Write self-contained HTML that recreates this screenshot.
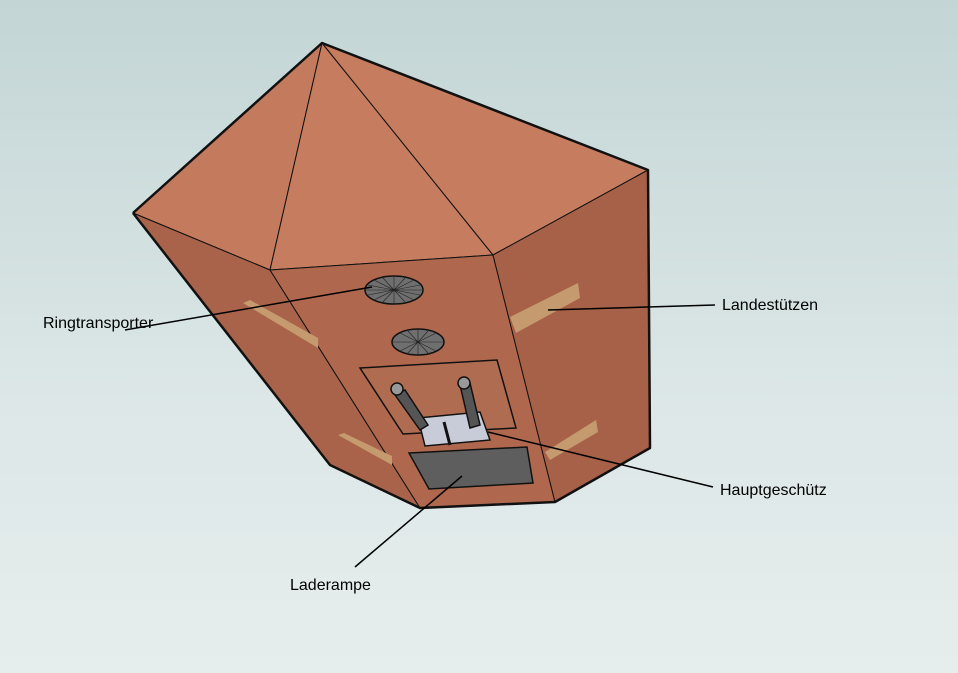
<!DOCTYPE html>
<html><head><meta charset="utf-8"><style>
html,body{margin:0;padding:0}
body{width:958px;height:673px;overflow:hidden;background:linear-gradient(#c3d5d5,#dde7e7 60%,#e6eded);font-family:"Liberation Sans",sans-serif}
svg{display:block}
</style></head><body>
<svg width="958" height="673" viewBox="0 0 958 673">
<g stroke="#111" stroke-linejoin="round">
<polygon points="322,43 133,213 270,270" fill="#c47a5c" stroke-width="1"/>
<polygon points="322,43 270,270 493,255" fill="#c67c5e" stroke-width="1"/>
<polygon points="322,43 493,255 648,170" fill="#c67d5f" stroke-width="1"/>
<polygon points="133,213 270,270 420,508 330,465" fill="#a9634a" stroke-width="1"/>
<polygon points="270,270 493,255 555,502 420,508" fill="#af684d" stroke-width="1"/>
<polygon points="493,255 648,170 650,448 555,502" fill="#a76148" stroke-width="1"/>
<polyline points="133,213 322,43 648,170 650,448 555,502 420,508 330,465 133,213" fill="none" stroke-width="2.5"/>
</g>
<g fill="#c49a6e" stroke="none">
<polygon points="243,303 250,300 318,338 318,348"/>
<polygon points="338,435 344,433 392,456 392,465"/>
<polygon points="510,317 578,283 580,298 516,333"/>
<polygon points="545,452 596,420 598,432 550,460"/>
</g>
<g stroke="#111" stroke-width="1.5">
<ellipse cx="394" cy="290" rx="29" ry="14" fill="#6f6f6f"/>
<ellipse cx="418" cy="342" rx="26" ry="13" fill="#6f6f6f"/>
</g>
<g stroke="#222" stroke-width="0.6">
<path d="M365,290H423M394,276V304M374,280L414,300M374,300L414,280M382,277L406,303M382,303L406,277M368,285L420,295M368,295L420,285"/>
<path d="M392,342H444M418,329V355M400,333L436,351M400,351L436,333M407,330L429,354M407,354L429,330"/>
</g>
<polygon points="360,368 497,360 516,428 403,434" fill="#b06c50" stroke="#111" stroke-width="1.5"/>
<g stroke="#111" stroke-width="1.5" fill="#c8ccd8">
<polygon points="418,418 480,412 490,440 425,446"/>
<path d="M395,395 L420,430 L428,425 L405,390Z" fill="#555"/>
<path d="M460,385 L470,428 L480,425 L470,383Z" fill="#555"/>
<circle cx="397" cy="389" r="6" fill="#999"/>
<circle cx="464" cy="383" r="6" fill="#999"/>
<path d="M444,422 L450,445" stroke-width="3" fill="none"/>
</g>
<polygon points="409,453 527,447 533,483 429,489" fill="#5e5e5e" stroke="#111" stroke-width="1.5"/>
<g stroke="#000" stroke-width="1.5">
<line x1="125" y1="330" x2="372" y2="287"/>
<line x1="548" y1="310" x2="715" y2="305"/>
<line x1="488" y1="432" x2="713" y2="487"/>
<line x1="355" y1="567" x2="462" y2="476"/>
</g>
<g font-size="16" fill="#000">
<text x="43" y="328">Ringtransporter</text>
<text x="722" y="310">Landestützen</text>
<text x="720" y="495">Hauptgeschütz</text>
<text x="290" y="590">Laderampe</text>
</g>
</svg>
</body></html>
